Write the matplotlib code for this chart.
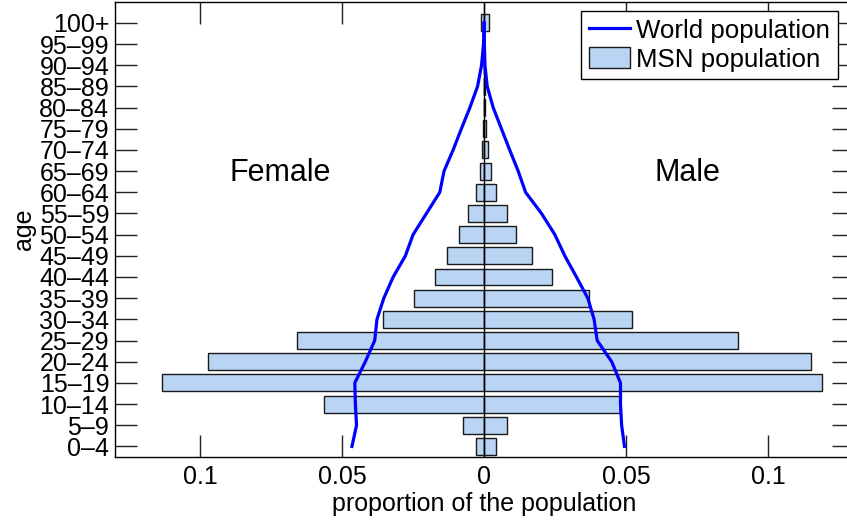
import matplotlib
matplotlib.use("Agg")
import matplotlib.pyplot as plt
import numpy as np

plt.rcParams['font.family'] = ['Liberation Sans', 'DejaVu Sans']

age_groups = ["0–4", "5–9", "10–14", "15–19", "20–24", "25–29", "30–34", "35–39",
              "40–44", "45–49", "50–54", "55–59", "60–64", "65–69", "70–74", "75–79",
              "80–84", "85–89", "90–94", "95–99", "100+"]

msn_female = [0.0027, 0.0074, 0.0563, 0.1134, 0.0972, 0.0657, 0.0357, 0.0248,
              0.0173, 0.0130, 0.0089, 0.0058, 0.0028, 0.0014, 0.0007, 0.0004,
              0.0002, 0.0001, 0.0, 0.0, 0.0010]
msn_male = [0.0041, 0.0081, 0.0479, 0.1190, 0.1149, 0.0894, 0.0520, 0.0369,
            0.0239, 0.0168, 0.0112, 0.0079, 0.0041, 0.0023, 0.0013, 0.0006,
            0.0003, 0.0002, 0.0, 0.0, 0.0018]

world_female = [0.0465, 0.0449, 0.0453, 0.0455, 0.0418, 0.0385, 0.0377, 0.0353,
                0.0320, 0.0277, 0.0250, 0.0203, 0.0156, 0.0141, 0.0109, 0.0080,
                0.0050, 0.0023, 0.0009, 0.0002, 0.0]
world_male = [0.0494, 0.0484, 0.0480, 0.0480, 0.0449, 0.0398, 0.0387, 0.0365,
              0.0325, 0.0284, 0.0249, 0.0202, 0.0146, 0.0120, 0.0090, 0.0061,
              0.0032, 0.0011, 0.0003, 0.0001, 0.0]

xtick_vals = [-0.1, -0.05, 0, 0.05, 0.1]
xtick_labels = ["0.1", "0.05", "0", "0.05", "0.1"]

W, H = 847, 523
fig = plt.figure(figsize=(W / 100, H / 100), dpi=100)
left, right, bottom, top = 114.7, 853.5, 457.0, 1.7
ax = fig.add_axes([left / W, 1 - bottom / H, (right - left) / W, (bottom - top) / H])

y = np.arange(len(age_groups))
bar_color = '#bad4f4'
edge = '#1a1a1a'
ax.barh(y, -np.array(msn_female), height=0.8, color=bar_color, edgecolor=edge,
        linewidth=1.0, zorder=2, label='MSN population')
ax.barh(y, msn_male, height=0.8, color=bar_color, edgecolor=edge, linewidth=1.0, zorder=2)
ax.axvline(0, color='black', linewidth=1.0, zorder=3)

ax.plot(-np.array(world_female), y, color='#0000ff', linewidth=2.3, zorder=4,
        label='World population')
ax.plot(world_male, y, color='#0000ff', linewidth=2.3, zorder=4)

ax.set_xlim(-0.13, 0.13)
ax.set_ylim(-0.5, 21)
ax.set_yticks(y)
ax.set_yticklabels(age_groups, fontsize=18)
ax.set_xticks(xtick_vals)
ax.set_xticklabels(xtick_labels, fontsize=18)
ax.tick_params(direction='in', length=16, width=1.0, top=True, right=True,
               labelsize=18, color='#222222')
ax.tick_params(axis='x', pad=6)
ax.tick_params(axis='y', pad=4)
for s in ax.spines.values():
    s.set_linewidth(1.0)

ax.set_xlabel('proportion of the population', fontsize=18, labelpad=2)
ax.set_ylabel('age', fontsize=18, labelpad=2)

ax.text(-0.0716, 12.9, 'Female', fontsize=22, ha='center', va='center')
ax.text(0.0717, 12.9, 'Male', fontsize=22, ha='center', va='center')

handles, labels = ax.get_legend_handles_labels()
order = [labels.index('World population'), labels.index('MSN population')]
leg = ax.legend([handles[i] for i in order], [labels[i] for i in order],
                loc='upper right', bbox_to_anchor=(838 / W, 1 - 10.7 / H),
                bbox_transform=fig.transFigure, borderaxespad=0, fontsize=18.6,
                fancybox=False, framealpha=1, edgecolor='black',
                handlelength=1.6, handleheight=0.9, labelspacing=0.15,
                borderpad=0.3, handletextpad=0.25)
leg.get_frame().set_linewidth(1.0)

fig.savefig('out.png', dpi=100)
